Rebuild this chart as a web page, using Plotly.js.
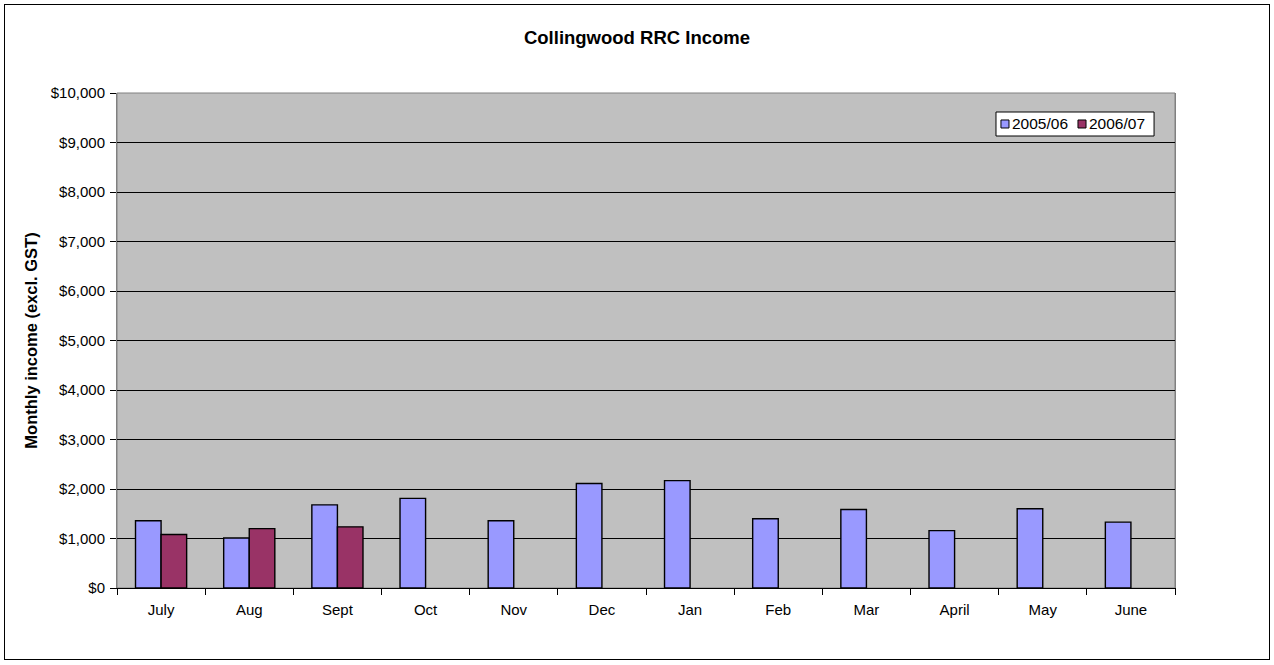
<!DOCTYPE html>
<html>
<head>
<meta charset="utf-8">
<script src="https://cdn.plot.ly/plotly-3.0.1.min.js"></script>
<style>
  html, body { margin: 0; padding: 0; background: #fff; }
  #wrap { position: relative; width: 1274px; height: 665px; }
  #chart { width: 1274px; height: 665px; }
  #frame { position: absolute; left: 4px; top: 4px; width: 1264px; height: 654px; border: 1px solid #000; pointer-events: none; }
</style>
</head>
<body>
<div id="wrap"><div id="chart"></div><div id="frame"></div></div>
<script>
const months = ["July","Aug","Sept","Oct","Nov","Dec","Jan","Feb","Mar","April","May","June"];
const series1Name = "2005/06";
const series1 = [1360, 1010, 1680, 1810, 1360, 2110, 2170, 1400, 1585, 1160, 1600, 1330];
const series2Name = "2006/07";
const series2 = [1080, 1200, 1235, null, null, null, null, null, null, null, null, null];
const series1Color = "#9999FF";
const series2Color = "#993366";
const yTickVals = [0,1000,2000,3000,4000,5000,6000,7000,8000,9000,10000];
const yTickText = ["$0","$1,000","$2,000","$3,000","$4,000","$5,000","$6,000","$7,000","$8,000","$9,000","$10,000"];

const font = "Liberation Sans, Arial, sans-serif";

const traces = [
  { type: "bar", name: series1Name, x: months, y: series1,
    marker: { color: series1Color, line: { color: "#000", width: 1.4 } }, hoverinfo: "x+y" },
  { type: "bar", name: series2Name, x: months, y: series2,
    marker: { color: series2Color, line: { color: "#000", width: 1.4 } }, hoverinfo: "x+y" }
];

// custom legend (compact boxes like the original)
const lg = { x0: 0.8308, x1: 0.9802, y0: 0.9131, y1: 0.9616 };
const legendShapes = [
  { type: "rect", xref: "paper", yref: "paper", x0: lg.x0, x1: lg.x1, y0: lg.y0, y1: lg.y1,
    fillcolor: "#fff", line: { color: "#000", width: 1 }, layer: "above" },
  { type: "rect", xref: "paper", yref: "paper", x0: 0.8355, x1: 0.8431, y0: 0.9293, y1: 0.9455,
    fillcolor: series1Color, line: { color: "#000", width: 1 }, layer: "above" },
  { type: "rect", xref: "paper", yref: "paper", x0: 0.9083, x1: 0.9159, y0: 0.9293, y1: 0.9455,
    fillcolor: series2Color, line: { color: "#000", width: 1 }, layer: "above" }
];
const legendAnnotations = [
  { xref: "paper", yref: "paper", x: 0.8440, y: 0.9374, xanchor: "left", yanchor: "middle",
    text: series1Name, showarrow: false, font: { family: font, size: 15.5, color: "#000" } },
  { xref: "paper", yref: "paper", x: 0.9168, y: 0.9374, xanchor: "left", yanchor: "middle",
    text: series2Name, showarrow: false, font: { family: font, size: 15.5, color: "#000" } }
];

const layout = {
  width: 1274, height: 665,
  margin: { l: 117, r: 99, t: 93, b: 77 },
  paper_bgcolor: "#fff",
  plot_bgcolor: "#C0C0C0",
  font: { family: font, size: 15, color: "#000" },
  title: { text: "<b>Collingwood RRC Income</b>", font: { family: font, size: 18.5, color: "#000" },
           x: 0.5, xref: "container", xanchor: "center", y: 1 - 38/665, yanchor: "middle" },
  barmode: "group",
  bargap: 0.42,
  bargroupgap: 0,
  showlegend: false,
  xaxis: { type: "category", tickson: "boundaries", ticks: "outside", ticklen: 6, tickcolor: "#000",
           showline: true, linecolor: "#000", linewidth: 1, showgrid: false, zeroline: false,
           ticklabelstandoff: 8,
           tickfont: { family: font, size: 15, color: "#000" } },
  yaxis: { range: [0, 10000], tickvals: yTickVals, ticktext: yTickText, ticks: "outside", ticklen: 6,
           tickcolor: "#000", showline: true, linecolor: "#808080", linewidth: 1, mirror: true,
           showgrid: true, gridcolor: "#000", gridwidth: 1, zeroline: false,
           ticklabelstandoff: 2,
           tickfont: { family: font, size: 15, color: "#000" },
           title: { text: "<b>Monthly income (excl. GST)</b>", font: { family: font, size: 16.5, color: "#000" }, standoff: 8 } },
  shapes: [
    { type: "rect", xref: "paper", yref: "paper", x0: 0, x1: 1, y0: 0, y1: 1,
      line: { color: "#808080", width: 1 }, layer: "below" }
  ].concat(legendShapes),
  annotations: legendAnnotations
};

Plotly.newPlot("chart", traces, layout, { displayModeBar: false, staticPlot: true });
</script>
</body>
</html>
